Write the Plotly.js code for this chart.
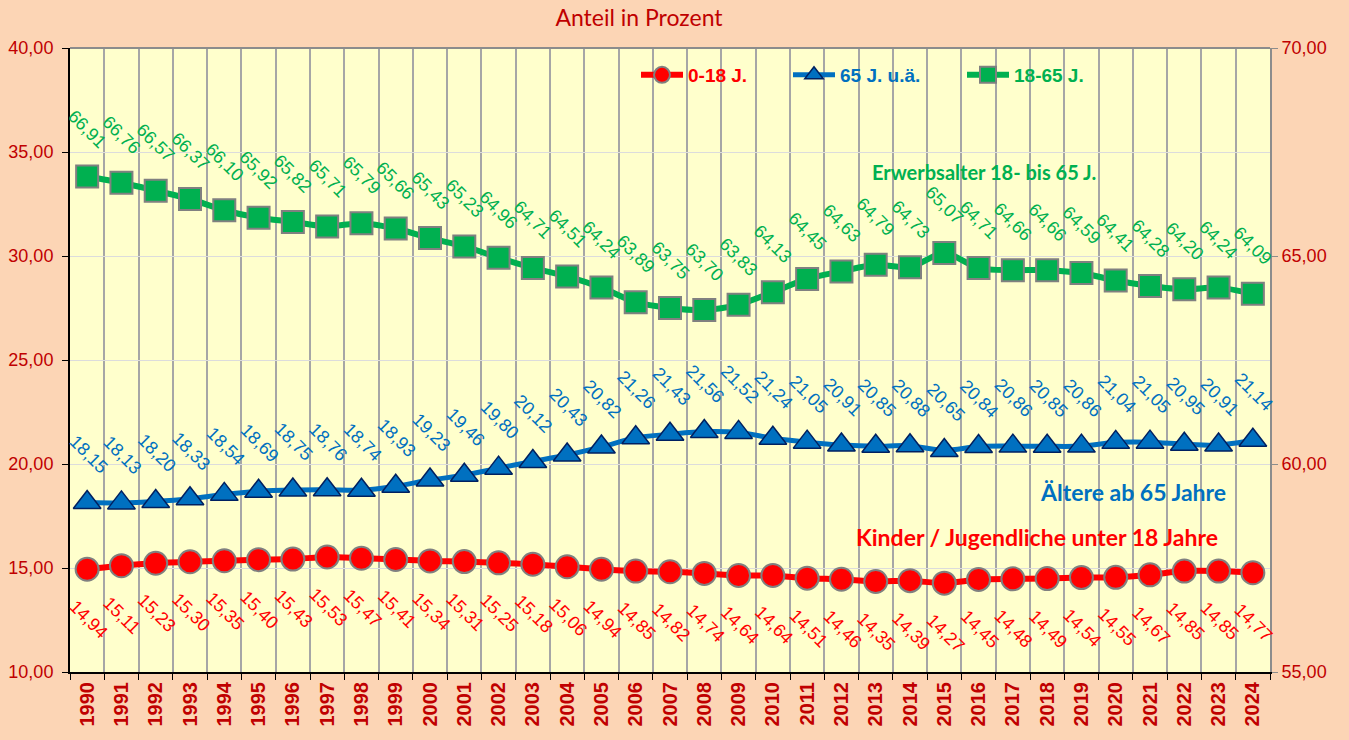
<!DOCTYPE html>
<html>
<head>
<meta charset="utf-8">
<script src="https://cdn.plot.ly/plotly-3.0.1.min.js"></script>
<style>
html,body{margin:0;padding:0;background:#FCD5B5;}
#chart{width:1349px;height:740px;}
</style>
</head>
<body>
<div id="chart"></div>
<script>
const years = ["1990","1991","1992","1993","1994","1995","1996","1997","1998","1999","2000","2001","2002","2003","2004","2005","2006","2007","2008","2009","2010","2011","2012","2013","2014","2015","2016","2017","2018","2019","2020","2021","2022","2023","2024"];
const kinder = [14.94,15.11,15.23,15.30,15.35,15.40,15.43,15.53,15.47,15.41,15.34,15.31,15.25,15.18,15.06,14.94,14.85,14.82,14.74,14.64,14.64,14.51,14.46,14.35,14.39,14.27,14.45,14.48,14.49,14.54,14.55,14.67,14.85,14.85,14.77];
const aeltere = [18.15,18.13,18.20,18.33,18.54,18.69,18.75,18.76,18.74,18.93,19.23,19.46,19.80,20.12,20.43,20.82,21.26,21.43,21.56,21.52,21.24,21.05,20.91,20.85,20.88,20.65,20.84,20.86,20.85,20.86,21.04,21.05,20.95,20.91,21.14];
const erwerb = [66.91,66.76,66.57,66.37,66.10,65.92,65.82,65.71,65.79,65.66,65.43,65.23,64.96,64.71,64.51,64.24,63.89,63.75,63.70,63.83,64.13,64.45,64.63,64.79,64.73,65.07,64.71,64.66,64.66,64.59,64.41,64.28,64.20,64.24,64.09];

const RED = "#FF0000", BLUE = "#0070C0", GREEN = "#00B050", DARKRED = "#C00000";
const fmt = v => v.toFixed(2).replace(".", ",");

const traces = [
  {x: years, y: kinder, name: "0-18 J.", type: "scatter", mode: "lines+markers", yaxis: "y", legend: "legend",
   line: {color: RED, width: 6, shape: "spline", smoothing: 0.8},
   marker: {symbol: "circle", size: 23, color: RED, line: {color: "#808080", width: 2}}},
  {x: years, y: aeltere, name: "65 J. u.ä.", type: "scatter", mode: "lines+markers", yaxis: "y", legend: "legend2",
   line: {color: BLUE, width: 5, shape: "spline", smoothing: 0.8},
   marker: {symbol: "triangle-up", size: 24, color: BLUE, line: {color: "#002060", width: 1.5}}},
  {x: years, y: erwerb, name: "18-65 J.", type: "scatter", mode: "lines+markers", yaxis: "y2", legend: "legend3",
   line: {color: GREEN, width: 6, shape: "spline", smoothing: 0.8},
   marker: {symbol: "square", size: 22, color: GREEN, line: {color: "#808080", width: 2}}}
];

const annotations = [];
const labelFont = c => ({family: "Liberation Sans, Arial, sans-serif", size: 18, color: c});
years.forEach((yr, i) => {
  annotations.push({x: i, y: kinder[i], xref: "x", yref: "y", text: fmt(kinder[i]), showarrow: false,
    textangle: 45, yshift: -50, xshift: 1, font: labelFont(RED)});
  annotations.push({x: i, y: aeltere[i], xref: "x", yref: "y", text: fmt(aeltere[i]), showarrow: false,
    textangle: 45, yshift: 48, xshift: 1, font: labelFont(BLUE)});
  annotations.push({x: i, y: erwerb[i], xref: "x", yref: "y2", text: fmt(erwerb[i]), showarrow: false,
    textangle: 45, yshift: 48, font: labelFont(GREEN)});
});
const boldFont = (c, s) => ({family: "Lato, sans-serif", size: s, color: c, weight: "bold"});
annotations.push({xref: "paper", yref: "paper", x: (1098 - 70) / 1200, y: (672 - 172) / 624, xanchor: "right", yanchor: "middle",
  text: "<b>Erwerbsalter 18- bis 65 J.</b>", showarrow: false, font: boldFont(GREEN, 20)});
annotations.push({xref: "paper", yref: "paper", x: (1228 - 70) / 1200, y: (672 - 492) / 624, xanchor: "right", yanchor: "middle",
  text: "<b>Ältere ab 65 Jahre</b>", showarrow: false, font: boldFont(BLUE, 23)});
annotations.push({xref: "paper", yref: "paper", x: (1220 - 70) / 1200, y: (672 - 537) / 624, xanchor: "right", yanchor: "middle",
  text: "<b>Kinder / Jugendliche unter 18 Jahre</b>", showarrow: false, font: boldFont(RED, 23)});

const legBase = (x, c) => ({visible: true, orientation: "h", x: x, y: (672 - 75) / 624, xanchor: "left", yanchor: "middle",
  bgcolor: "rgba(0,0,0,0)", itemwidth: 42, font: {family: "Liberation Sans, Arial, sans-serif", size: 19, color: c, weight: "bold"}});

const layout = {
  width: 1349, height: 740,
  showlegend: true,
  paper_bgcolor: "#FCD5B5", plot_bgcolor: "#FFFFCC",
  margin: {l: 70, r: 79, t: 48, b: 68},
  separators: ",.",
  title: {text: "Anteil in Prozent", x: 639 / 1349, xref: "container", xanchor: "center", y: 1 - 18 / 740, yref: "container", yanchor: "middle",
    font: {family: "Lato, sans-serif", size: 23, color: DARKRED}},
  xaxis: {type: "category", tickson: "boundaries", showgrid: true, gridcolor: "#A6A6A6", gridwidth: 2,
    showline: true, linecolor: "#000000", linewidth: 2, ticks: "outside", ticklen: 6, tickcolor: "#000000",
    tickangle: -90, tickfont: {family: "Liberation Sans, Arial, sans-serif", size: 20, color: DARKRED, weight: "bold"},
    range: [-0.5, years.length - 0.5], zeroline: false, fixedrange: true},
  yaxis: {range: [10, 40], dtick: 5, tickformat: ".2f", showgrid: true, gridcolor: "#DCDCDC", gridwidth: 1,
    showline: true, linecolor: "#000000", linewidth: 2, ticks: "outside", ticklen: 6, tickcolor: "#000000",
    ticklabelstandoff: 5,
    tickfont: {family: "Liberation Sans, Arial, sans-serif", size: 18, color: DARKRED}, zeroline: false},
  yaxis2: {range: [55, 70], dtick: 5, tickformat: ".2f", overlaying: "y", side: "right", showgrid: false,
    showline: true, linecolor: "#8C8C8C", linewidth: 2, ticks: "outside", ticklen: 6, tickcolor: "#8C8C8C",
    tickfont: {family: "Liberation Sans, Arial, sans-serif", size: 18, color: DARKRED}, zeroline: false},
  legend: legBase((636 - 70) / 1200, RED),
  legend2: legBase((788 - 70) / 1200, BLUE),
  legend3: legBase((962 - 70) / 1200, GREEN),
  shapes: [{type: "line", xref: "paper", yref: "paper", x0: 0, x1: 1, y0: 1, y1: 1, line: {color: "#8C8C8C", width: 2}}],
  annotations: annotations
};

Plotly.newPlot("chart", traces, layout, {displayModeBar: false, staticPlot: true});
</script>
</body>
</html>
